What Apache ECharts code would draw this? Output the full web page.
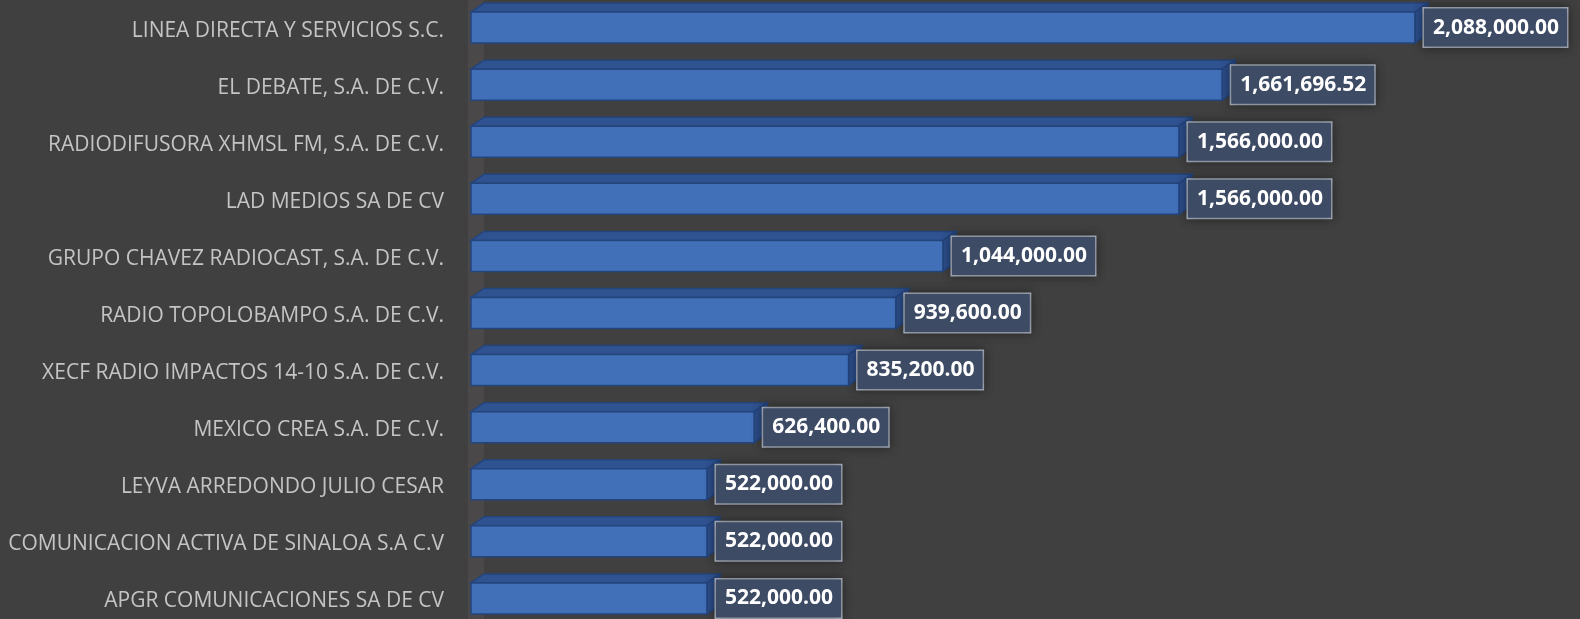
<!DOCTYPE html>
<html>
<head>
<meta charset="utf-8">
<script src="https://cdn.jsdelivr.net/npm/echarts@6/dist/echarts.min.js"></script>
<style>
	html, body { margin: 0; padding: 0; background: #404040; }
	#main { width: 1580px; height: 619px; }
</style>
</head>
<body>
<div id="main"></div>
<script>
// 数据
var categories = [
	'LINEA DIRECTA Y SERVICIOS S.C.',
	'EL DEBATE, S.A. DE C.V.',
	'RADIODIFUSORA XHMSL FM, S.A. DE C.V.',
	'LAD MEDIOS SA DE CV',
	'GRUPO CHAVEZ RADIOCAST, S.A. DE C.V.',
	'RADIO TOPOLOBAMPO S.A. DE C.V.',
	'XECF RADIO IMPACTOS 14-10 S.A. DE C.V.',
	'MEXICO CREA S.A. DE C.V.',
	'LEYVA ARREDONDO JULIO CESAR',
	'COMUNICACION ACTIVA DE SINALOA S.A C.V',
	'APGR COMUNICACIONES SA DE CV'
];
var amounts = [2088000, 1661696.52, 1566000, 1566000, 1044000, 939600, 835200, 626400, 522000, 522000, 522000];

var myChart = echarts.init(document.getElementById('main'));

function fmt(v) {
	return v.toLocaleString('en-US', {minimumFractionDigits: 2, maximumFractionDigits: 2});
}

// 3D 条形
function renderBar(params, api) {
	var start = api.coord([0, api.value(1)]);
	var end = api.coord([api.value(0), api.value(1)]);
	var h = 31, dx = 13, dy = 9;
	var x0 = start[0], x1 = end[0];
	var y0 = start[1] - h / 2;
	var children = [];

	if (params.dataIndex === 0) {
		children.push({
			type: 'rect',
			shape: {x: x0 - 3, y: params.coordSys.y, width: dx + 3, height: params.coordSys.height},
			style: {fill: '#4a4848'}
		});
	}
	children.push({
		type: 'polygon',
		shape: {points: [[x0, y0], [x0 + dx, y0 - dy], [x1 + dx, y0 - dy], [x1, y0]]},
		style: {fill: '#2f5290', stroke: '#24447c', lineWidth: 1.5}
	});
	children.push({
		type: 'polygon',
		shape: {points: [[x1, y0], [x1 + dx, y0 - dy], [x1 + dx, y0 + h - dy], [x1, y0 + h]]},
		style: {fill: '#2c4d88', stroke: '#24447c', lineWidth: 1.5}
	});
	children.push({
		type: 'rect',
		shape: {x: x0, y: y0, width: x1 - x0, height: h},
		style: {fill: '#4170b8', stroke: '#24447c', lineWidth: 1.5}
	});
	children.push({
		type: 'text',
		x: x1 + 9,
		y: start[1],
		style: {
			text: fmt(api.value(0)),
			fill: '#ffffff',
			font: 'bold 21px "Open Sans"',
			verticalAlign: 'middle',
			align: 'left',
			lineHeight: 30,
			padding: [4, 8, 4, 9],
			backgroundColor: '#3d4b65',
			borderColor: '#a9b0bc',
			borderWidth: 1.5,
			shadowBlur: 10,
			shadowColor: 'rgba(0,0,0,0.35)'
		}
	});
	return {type: 'group', children: children};
}

var option = {
	backgroundColor: '#404040',
	animation: false,
	grid: {left: 471, right: 24, top: -1, height: 628, outerBoundsMode: 'none'},
	xAxis: {
		type: 'value',
		min: 0,
		max: 2400000,
		show: false
	},
	yAxis: {
		type: 'category',
		data: categories,
		inverse: true,
		axisLine: {show: false},
		axisTick: {show: false},
		axisLabel: {
			margin: 27,
			color: '#c4c4c4',
			fontFamily: 'Open Sans',
			fontSize: 21,
			// 文字略低于条形中心
			verticalAlign: 'top',
			lineHeight: 6
		}
	},
	series: [{
		type: 'custom',
		renderItem: renderBar,
		encode: {x: 0, y: 1},
		data: amounts.map(function (v, i) { return [v, i]; })
	}]
};

myChart.setOption(option);
</script>
</body>
</html>
